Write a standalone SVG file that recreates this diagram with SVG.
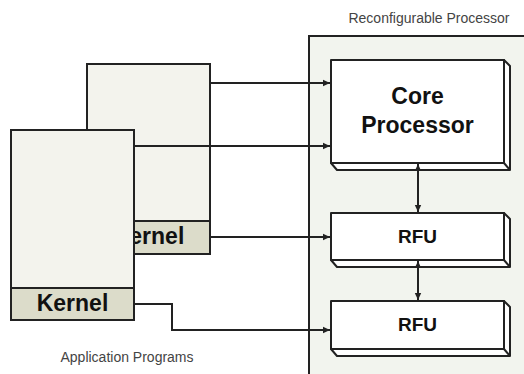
<svg xmlns="http://www.w3.org/2000/svg" width="524" height="374" viewBox="0 0 524 374">
<defs>
<style>
.frame{fill:#f3f3ed;stroke:#222;stroke-width:2}
.band{fill:#dcdcca;stroke:#222;stroke-width:2}
.box{fill:#fff;stroke:#222;stroke-width:2;stroke-linejoin:round}
.cont{fill:#f2f4ee;stroke:#222;stroke-width:2}
.lbl{font-family:"Liberation Sans",Arial,sans-serif;font-size:14px;fill:#444;text-anchor:middle}
.bold{font-family:"Liberation Sans",Arial,sans-serif;font-weight:bold;fill:#111;text-anchor:middle}
.conn{fill:none;stroke:#222;stroke-width:2}
</style>
<marker id="ah" markerUnits="userSpaceOnUse" markerWidth="8" markerHeight="8" refX="7" refY="4" orient="auto-start-reverse" viewBox="0 0 8 8">
<path d="M0,0.8 L7,4 L0,7.2 Z" fill="#222"/>
</marker>
</defs>
<rect width="524" height="374" fill="#fff"/>

<g id="reconfigurable-processor">
<rect class="cont" x="309" y="36" width="220" height="345"/>
<text class="lbl" x="429" y="23">Reconfigurable Processor</text>
</g>

<g id="app-back">
<rect class="frame" x="87" y="64" width="123" height="190"/>
<rect class="band" x="87" y="221" width="123" height="33"/>
<text class="bold" x="148.5" y="244" font-size="23">Kernel</text>
</g>

<g id="app-front">
<rect class="frame" x="11" y="130" width="123" height="190"/>
<rect class="band" x="11" y="288" width="123" height="32"/>
<text class="bold" x="72.5" y="311" font-size="23">Kernel</text>
</g>

<g id="core-processor">
<path class="box" d="M504,60 L510,66 V170 H337 L331,163 Z"/>
<path class="box" d="M504,163 L510,170"/>
<rect class="box" x="331" y="60" width="173" height="103"/>
<text class="bold" x="417.5" y="103.5" font-size="23">Core</text>
<text class="bold" x="417.5" y="133" font-size="23">Processor</text>
</g>

<g id="rfu1">
<path class="box" d="M504,213 L510,219 V267 H337 L331,260 Z"/>
<path class="box" d="M504,260 L510,267"/>
<rect class="box" x="331" y="213" width="173" height="47"/>
<text class="bold" x="417.5" y="243" font-size="19">RFU</text>
</g>

<g id="rfu2">
<path class="box" d="M504,301 L510,307 V356 H337 L331,349 Z"/>
<path class="box" d="M504,349 L510,356"/>
<rect class="box" x="331" y="301" width="173" height="48"/>
<text class="bold" x="417.5" y="331" font-size="19">RFU</text>
</g>

<g id="app-label">
<text class="lbl" x="127" y="362">Application Programs</text>
</g>

<g id="connectors">
<path class="conn" d="M210,83 H330" marker-end="url(#ah)"/>
<path class="conn" d="M134,146 H330" marker-end="url(#ah)"/>
<path class="conn" d="M210,237 H330" marker-end="url(#ah)"/>
<path class="conn" d="M134,304 H172 V330 H330" marker-end="url(#ah)"/>
<path class="conn" d="M418,164 V212" marker-start="url(#ah)" marker-end="url(#ah)"/>
<path class="conn" d="M418,261 V300" marker-start="url(#ah)" marker-end="url(#ah)"/>
</g>
</svg>
